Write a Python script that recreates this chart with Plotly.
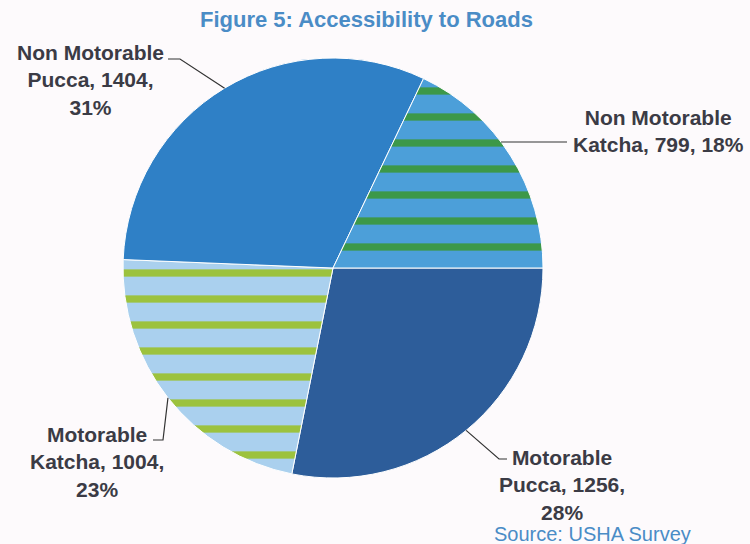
import math
import plotly.graph_objects as go

# ---- data ----
categories = ["Motorable Pucca", "Motorable Katcha", "Non Motorable Pucca", "Non Motorable Katcha"]
values = [1256, 1004, 1404, 799]
percents = [28, 23, 31, 18]
label_lines = [["Motorable", "Pucca, {v},", "{p}%"],
               ["Motorable", "Katcha, {v},", "{p}%"],
               ["Non Motorable", "Pucca, {v},", "{p}%"],
               ["Non Motorable", "Katcha, {v}, {p}%"]]
title_text = "Figure 5: Accessibility to Roads"
source_text = "Source: USHA Survey"

# ---- styling ----
W, H = 750, 544
CX, CY, R = 333, 268, 210
slice_colors = ["#2d5d9a", "#aad0ee", "#2f80c6", "#4c9fd9"]
stripe_colors = ["#2d5d9a", "#9cc23e", "#2f80c6", "#3c9849"]
stripe_shapes = ["", "-", "", "-"]
text_color = "#3b3b45"
blue_text = "#4a8cc6"
FONT = "Liberation Sans, Arial, sans-serif"

def px(x):
    return x / W

def py(y):
    return 1 - y / H

total = sum(values)

fig = go.Figure(go.Pie(
    labels=categories,
    values=values,
    sort=False,
    direction="clockwise",
    rotation=90,
    textinfo="none",
    hoverinfo="label+value+percent",
    marker=dict(colors=slice_colors, line=dict(color="white", width=1),
                pattern=dict(shape=stripe_shapes, fgcolor=stripe_colors,
                             bgcolor=slice_colors, size=26, solidity=0.28,
                             fillmode="replace")),
    domain=dict(x=[px(CX - R), px(CX + R)], y=[py(CY + R), py(CY - R)]),
    showlegend=False,
))

# mid angles of slices (clockwise from 3 o'clock)
mids = []
acc = 0
for v in values:
    mids.append((acc + v / 2) / total * 360)
    acc += v

def edge(a):
    t = math.radians(a)
    return CX + R * math.cos(t), CY + R * math.sin(t)

# label block centres
label_pos = [(562, 485), (97, 462), (90, 80), (658, 131)]
anns = []
for i, (lx, ly) in enumerate(label_pos):
    txt = "<br>".join("<b>" + s.format(v=values[i], p=percents[i]) + "</b>" for s in label_lines[i])
    anns.append(dict(x=px(lx), y=py(ly), xref="paper", yref="paper", text=txt,
                     showarrow=False, align="center", xanchor="center", yanchor="middle",
                     font=dict(family=FONT, size=21, color=text_color)))

ex, ey = zip(*[edge(a) for a in mids])
paths = [
    [(ex[0], ey[0]), (499, 459), (507, 459)],
    [(ex[1], ey[1]), (163, 440), (153, 440)],
    [(ex[2], ey[2]), (180, 59), (168, 59)],
    [(CX + math.sqrt(R**2 - (142 - CY)**2), 142), (567, 142)],
]
shapes = []
for pts in paths:
    d = "M " + " L ".join(f"{px(x)},{py(y)}" for x, y in pts)
    shapes.append(dict(type="path", path=d, xref="paper", yref="paper",
                       line=dict(color="#333333", width=1.2)))

anns.append(dict(x=px(366), y=py(20), xref="paper", yref="paper", text="<b>" + title_text + "</b>",
                 showarrow=False, xanchor="center", yanchor="middle",
                 font=dict(family=FONT, size=22, color=blue_text)))
anns.append(dict(x=px(592), y=py(534), xref="paper", yref="paper", text=source_text,
                 showarrow=False, xanchor="center", yanchor="middle",
                 font=dict(family=FONT, size=20, color=blue_text)))

fig.update_layout(
    width=W, height=H,
    margin=dict(l=0, r=0, t=0, b=0),
    paper_bgcolor="#fdfafc",
    plot_bgcolor="#fdfafc",
    annotations=anns,
    shapes=shapes,
    font=dict(family=FONT, color=text_color),
)

fig.write_html("out.html")
